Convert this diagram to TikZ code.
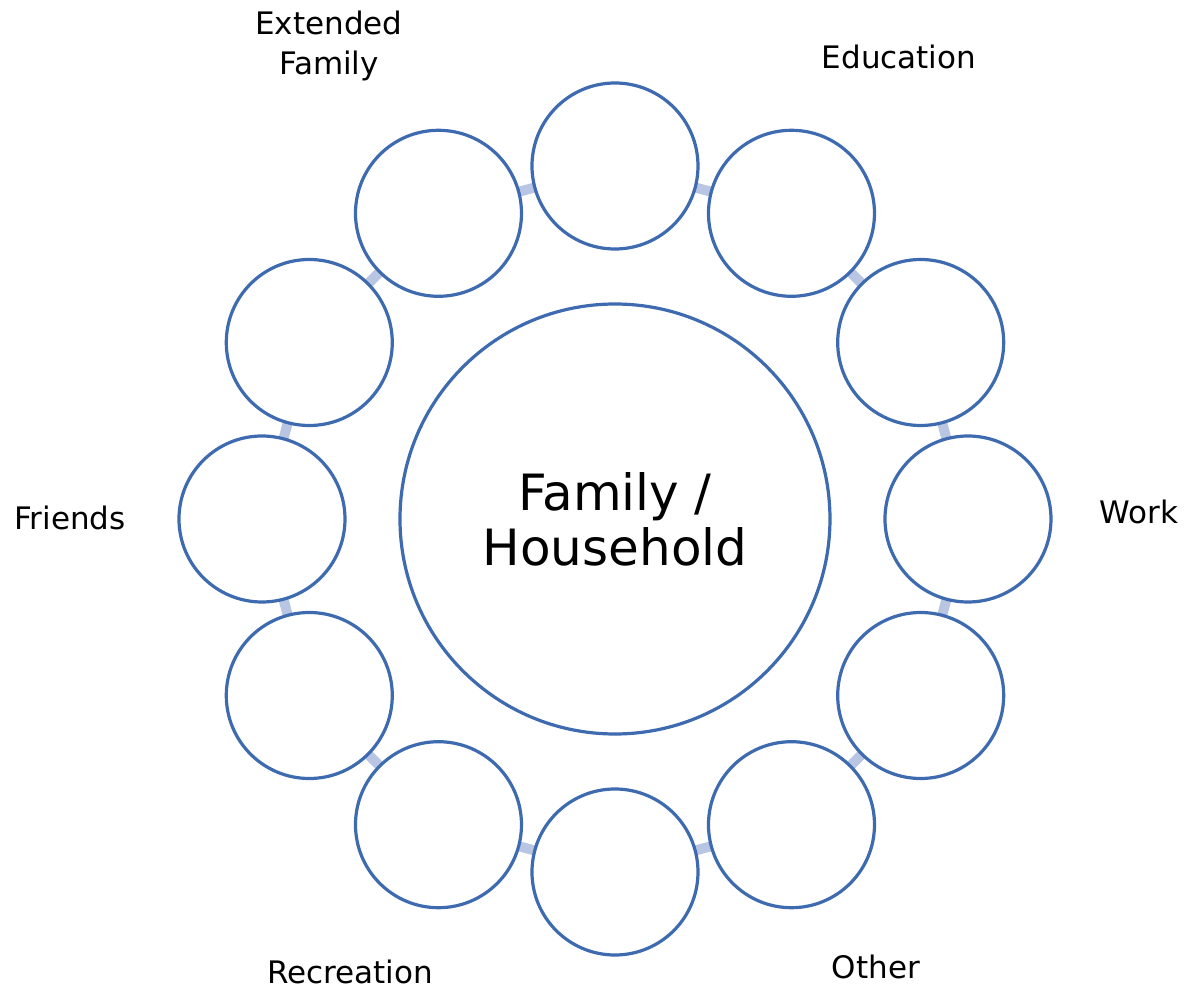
\documentclass[tikz,border=0pt]{standalone}
\usepackage{fontspec}
\setmainfont{DejaVu Sans}
\usepackage{tikz, xcolor}
\usetikzlibrary{backgrounds}

\definecolor{ringblue}{RGB}{62,106,175}
\definecolor{linkblue}{RGB}{184,198,228}

\begin{document}
\begin{tikzpicture}[font = \fontsize{15.5}{20}\selectfont,
    hub/.style={circle, draw=ringblue, fill=white, line width=1.6pt, minimum size=215pt, inner sep=0pt, align=center, font=\fontsize{25}{27.5}\selectfont},
    sat/.style={circle, draw=ringblue, fill=white, line width=1.6pt, minimum size=83pt, inner sep=0pt},
    link/.style={linkblue, line width=5pt},
    tag/.style={anchor=base, align=center, inner sep=0pt},
    ]

    \useasboundingbox (-307.5pt,-236pt) rectangle (288pt,259.5pt);

    \node(hub)[hub] at (0,0){Family /\\Household};

    % satellites, clockwise from the top
    \node(s1)[sat] at (90:176.5pt){};
    \node(s2)[sat] at (60:176.5pt){};
    \node(s3)[sat] at (30:176.5pt){};
    \node(s4)[sat] at (0:176.5pt){};
    \node(s5)[sat] at (-30:176.5pt){};
    \node(s6)[sat] at (-60:176.5pt){};
    \node(s7)[sat] at (-90:176.5pt){};
    \node(s8)[sat] at (-120:176.5pt){};
    \node(s9)[sat] at (-150:176.5pt){};
    \node(s10)[sat] at (180:176.5pt){};
    \node(s11)[sat] at (150:176.5pt){};
    \node(s12)[sat] at (120:176.5pt){};

    \node(ledu)[tag] at (142pt,225pt){Education};
    \node(lwork)[tag] at (262pt,-2.5pt){Work};
    \node(lother)[tag] at (130.5pt,-229.5pt){Other};
    \node(lrec)[tag] at (-132.5pt,-232pt){Recreation};
    \node(lfriends)[tag] at (-272.5pt,-5.5pt){Friends};
    \node(lext)[tag] at (-143pt,222pt){Extended\\Family};

    % links sit behind the white circles
    \begin{scope}[on background layer]
    \draw[link](s1.center) -- (s2.center);
    \draw[link](s2.center) -- (s3.center);
    \draw[link](s3.center) -- (s4.center);
    \draw[link](s4.center) -- (s5.center);
    \draw[link](s5.center) -- (s6.center);
    \draw[link](s6.center) -- (s7.center);
    \draw[link](s7.center) -- (s8.center);
    \draw[link](s8.center) -- (s9.center);
    \draw[link](s9.center) -- (s10.center);
    \draw[link](s10.center) -- (s11.center);
    \draw[link](s11.center) -- (s12.center);
    \draw[link](s12.center) -- (s1.center);
    \end{scope}

\end{tikzpicture}
\end{document}
